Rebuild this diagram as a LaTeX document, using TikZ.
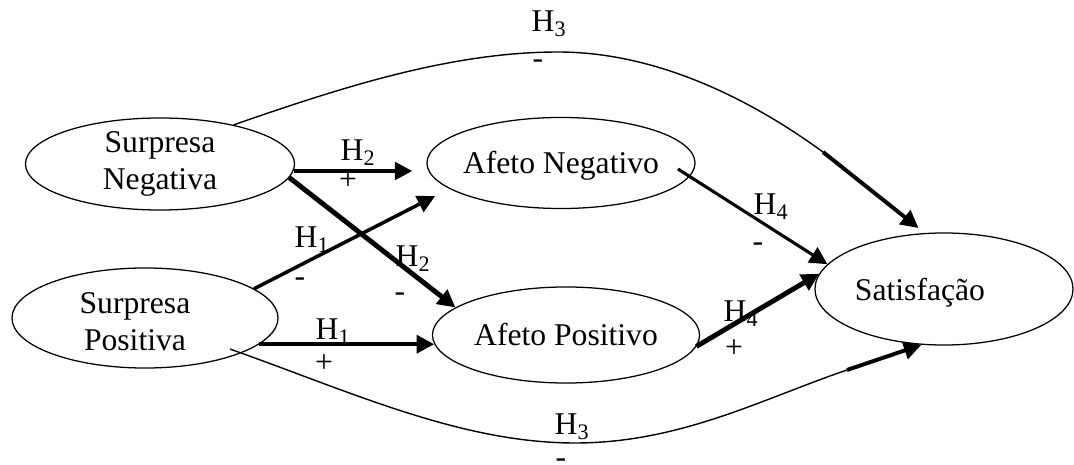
\documentclass[tikz,border=0pt]{standalone}
\usepackage{fontspec}
\setmainfont{Liberation Serif}
\usetikzlibrary{arrows.meta,shapes.geometric}

\begin{document}
\begin{tikzpicture}[x=0.025cm, y=-0.025cm, >={Triangle[length=12.5pt,width=12.5pt]}, font=\fontsize{22.5}{26}\selectfont]

    \tikzstyle{construct}=[ellipse, draw=black, line width=0.9pt, inner sep=0pt]
    \tikzstyle{hyp}=[anchor=base, inner sep=0pt]
    \tikzstyle{thin path}=[line width=1pt]

    \useasboundingbox (0,0) rectangle (1074,465);

    % constructs
    \node[construct, minimum width=6.725cm, minimum height=2.3cm,
          label={[align=center]center:Surpresa\\Negativa}] (SN) at (160,164) {};
    \node[construct, minimum width=6.65cm, minimum height=2.5cm,
          label={[align=center, xshift=-0.25cm, yshift=-0.09cm]center:Surpresa\\Positiva}] (SP) at (145,318) {};
    \node[construct, minimum width=6.7cm, minimum height=2.275cm,
          label={[yshift=-0.07cm]center:Afeto Negativo}] (AN) at (561,163) {};
    \node[construct, minimum width=6.675cm, minimum height=2.4cm,
          label={center:Afeto Positivo}] (AP) at (566,335) {};
    \node[construct, minimum width=6.45cm, minimum height=2.8cm,
          label={[xshift=-0.6cm, yshift=-0.1cm]center:Satisfação}] (SAT) at (944,289) {};

    % direct paths
    \draw[->, line width=2.8pt, shorten >=0.35cm] (SN.-3) -- (SN.-3 -| AN.west);
    \draw[->, line width=3.5pt] (SN.-6) -- (AP.166);
    \draw[->, line width=2.5pt, shorten >=0.4cm] (SP.15) -- (AN.193);
    \draw[->, line width=3.2pt] (AP.-176 -| SP.-13) -- (AP.-176);
    \draw[->, line width=2.2pt, shorten <=-0.35cm] (AN.-6) -- (SAT.168);
    \draw[->, line width=3.5pt] (AP.-5) -- (SAT.173);

    % long paths (H3)
    \coordinate (TOP3) at (558,52);
    \coordinate (END3A) at (823,152);
    \draw[thin path] (SN.28) .. controls (340,88) and (450,52) .. (TOP3)
                             .. controls (650,52) and (742,93) .. (END3A);
    \draw[->, line width=2.8pt, shorten >=0.2cm] (END3A) -- (SAT.109);

    \coordinate (BOT3) at (575,443);
    \coordinate (END3B) at (847,370);
    \draw[thin path, shorten <=-0.3cm] (SP.-20) .. controls (349,391) and (460,443) .. (BOT3)
                             .. controls (680,443) and (762,399) .. (END3B);
    \draw[->, line width=2.8pt] (END3B) -- (SAT.-112);

    % hypotheses
    \node[hyp] (H2A) at (358,161) {H\textsubscript{2}};
    \node[hyp] (S2A) at (348,190) {+};
    \node[hyp] (H1A) at (312,248) {H\textsubscript{1}};
    \node[hyp] (S1A) at (300,287) {-};
    \node[hyp] (H2B) at (413,267) {H\textsubscript{2}};
    \node[hyp] (S2B) at (400,302) {-};
    \node[hyp] (H1B) at (333,340) {H\textsubscript{1}};
    \node[hyp] (S1B) at (324,373) {+};
    \node[hyp] (H4A) at (771,215) {H\textsubscript{4}};
    \node[hyp] (S4A) at (758,252) {-};
    \node[hyp] (H4B) at (741,322) {H\textsubscript{4}};
    \node[hyp] (S4B) at (734,358) {+};
    \node[hyp] (H3A) at (549,32) {H\textsubscript{3}};
    \node[hyp] (S3A) at (538,69) {-};
    \node[hyp] (H3B) at (572,435) {H\textsubscript{3}};
    \node[hyp] (S3B) at (561,468) {-};

\end{tikzpicture}
\end{document}
